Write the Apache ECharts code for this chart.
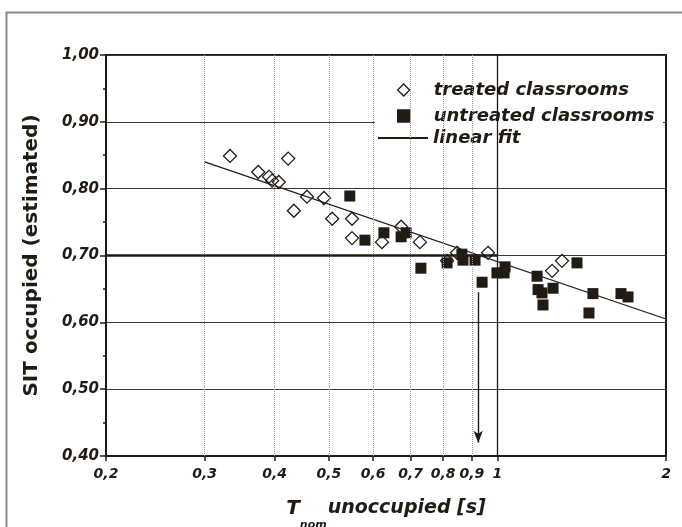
<!DOCTYPE html>
<html>
<head>
<meta charset="utf-8">
<script src="https://cdn.jsdelivr.net/npm/echarts@6/dist/echarts.min.js"></script>
<style>
  html, body { margin: 0; padding: 0; background: #fff; }
  #chart { width: 682px; height: 527px; }
</style>
</head>
<body>
<div id="chart"></div>
<script>
// T_nom unoccupied [s] vs SIT occupied (estimated)
var treatedX = [0.333, 0.374, 0.391, 0.396, 0.407, 0.423, 0.433, 0.457, 0.490, 0.507, 0.550, 0.550, 0.622, 0.673, 0.727, 0.813, 0.847, 0.962, 1.252, 1.304];
var treatedY = [0.849, 0.825, 0.818, 0.812, 0.810, 0.845, 0.767, 0.788, 0.786, 0.755, 0.755, 0.726, 0.720, 0.743, 0.720, 0.692, 0.704, 0.704, 0.677, 0.692];

var untreatedX = [0.545, 0.580, 0.627, 0.673, 0.687, 0.730, 0.813, 0.864, 0.868, 0.912, 0.939, 0.998, 1.032, 1.028, 1.177, 1.182, 1.201, 1.257, 1.206, 1.387, 1.481, 1.457, 1.662, 1.711];
var untreatedY = [0.789, 0.723, 0.734, 0.728, 0.734, 0.681, 0.689, 0.702, 0.693, 0.693, 0.660, 0.674, 0.683, 0.674, 0.669, 0.649, 0.644, 0.651, 0.626, 0.689, 0.643, 0.614, 0.643, 0.638];

var fitX = [0.3, 2];
var fitY = [0.840, 0.605];

var xTicks = [0.2, 0.3, 0.4, 0.5, 0.6, 0.7, 0.8, 0.9, 1, 2];
var dottedX = [0.3, 0.4, 0.5, 0.6, 0.7, 0.8, 0.9];
var arrowX = 0.924, arrowFrom = 0.645, arrowTo = 0.42;

var ink = '#221b14';
var font = 'DejaVu Sans';

function pairs(xs, ys) {
  return xs.map(function (x, i) { return [x, ys[i]]; });
}

var markData = dottedX.map(function (v) {
  return { xAxis: v, lineStyle: { type: 'dotted', color: '#9a9a9a', width: 1 } };
});
markData.push({ xAxis: 1, lineStyle: { type: 'solid', color: ink, width: 1.3 } });
markData.push([
  { coord: [0.2, 0.7], lineStyle: { type: 'solid', color: ink, width: 2.5 } },
  { coord: [1, 0.7] }
]);
markData.push([
  { coord: [arrowX, arrowFrom], symbol: 'none', lineStyle: { type: 'solid', color: ink, width: 1.4 } },
  { coord: [arrowX, arrowTo], symbol: 'arrow', symbolSize: [7, 12] }
]);

var legendText = { fontFamily: font, fontSize: 18, fontWeight: 'bold', fontStyle: 'italic', color: ink, lineHeight: 20 };

var chart = echarts.init(document.getElementById('chart'));
var option = {
  backgroundColor: '#fff',
  animation: false,
  textStyle: { fontFamily: font, color: ink },
  graphic: [{
    type: 'rect',
    shape: { x: 6.5, y: 12.5, width: 800, height: 600 },
    style: { fill: 'none', stroke: '#8c8c8c', lineWidth: 2 },
    silent: true
  }, {
    // white box behind the legend
    type: 'rect', z: 3,
    shape: { x: 375, y: 68, width: 288, height: 87 },
    style: { fill: '#fff' },
    silent: true
  }],
  grid: {
    left: 106, right: 16, top: 55, bottom: 71,
    show: true, borderColor: ink, borderWidth: 2,
    outerBoundsMode: 'none'
  },
  legend: [{
    orient: 'vertical',
    left: 397, top: 80, padding: 0,
    itemWidth: 12, itemHeight: 12, itemGap: 6,
    textStyle: Object.assign({ padding: [0, 0, 0, 19] }, legendText),
    itemStyle: { borderWidth: 1.3 },
    data: ['treated classrooms', 'untreated classrooms']
  }, {
    orient: 'vertical',
    left: 377, top: 128, padding: 0,
    itemWidth: 50, itemHeight: 12,
    textStyle: legendText,
    data: [{ name: 'linear fit', itemStyle: { color: 'rgba(0,0,0,0)', borderWidth: 0, opacity: 0 } }]
  }],
  xAxis: {
    type: 'log', logBase: 10, min: 0.2, max: 2,
    name: '{t|T}{sub|nom}{u|unoccupied [s]}',
    nameLocation: 'middle', nameGap: 43,
    nameTextStyle: {
      rich: {
        t: { fontFamily: font, fontSize: 20, fontWeight: 'bold', fontStyle: 'italic', color: ink, lineHeight: 22, verticalAlign: 'top' },
        sub: { fontFamily: font, fontSize: 11, fontWeight: 'bold', fontStyle: 'italic', color: ink, padding: [21, 1, 0, 0], verticalAlign: 'top' },
        u: { fontFamily: font, fontSize: 19, fontWeight: 'bold', fontStyle: 'italic', color: ink, lineHeight: 22, verticalAlign: 'top' }
      }
    },
    axisLine: { show: true, lineStyle: { color: ink, width: 2 } },
    axisTick: { show: true, customValues: xTicks, length: 5, lineStyle: { color: ink, width: 1.5 } },
    axisLabel: {
      customValues: xTicks, margin: 11,
      fontFamily: font, fontSize: 14, fontWeight: 'bold', fontStyle: 'italic', color: ink,
      formatter: function (v) { return (Math.round(v * 10) / 10).toString().replace('.', ','); }
    },
    splitLine: { show: false },
    minorTick: { show: false },
    minorSplitLine: { show: false }
  },
  yAxis: {
    type: 'value', min: 0.4, max: 1.0, interval: 0.1,
    name: 'SIT occupied (estimated)',
    nameLocation: 'middle', nameGap: 64,
    nameTextStyle: { fontFamily: font, fontSize: 20, fontWeight: 'bold', color: ink },
    axisLine: { show: true, lineStyle: { color: ink, width: 2 } },
    axisTick: { show: true, length: 6, lineStyle: { color: ink, width: 1.5 } },
    minorTick: { show: true, splitNumber: 2, length: 3, lineStyle: { color: ink, width: 1.5 } },
    axisLabel: {
      margin: 7,
      fontFamily: font, fontSize: 15, fontWeight: 'bold', fontStyle: 'italic', color: ink,
      formatter: function (v) { return v.toFixed(2).replace('.', ','); }
    },
    splitLine: { show: true, lineStyle: { color: '#3d3630', width: 1 } }
  },
  series: [
    {
      name: 'linear fit',
      type: 'line',
      data: pairs(fitX, fitY),
      symbol: 'none',
      lineStyle: { color: ink, width: 1.3 },
      itemStyle: { color: ink },
      markLine: {
        silent: true,
        symbol: ['none', 'none'],
        label: { show: false },
        data: markData
      },
      z: 2
    },
    {
      name: 'treated classrooms',
      type: 'scatter',
      data: pairs(treatedX, treatedY),
      symbol: 'diamond',
      symbolSize: 13,
      itemStyle: { color: 'rgba(255,255,255,0)', borderColor: ink, borderWidth: 1.3, opacity: 1 },
      z: 3
    },
    {
      name: 'untreated classrooms',
      type: 'scatter',
      data: pairs(untreatedX, untreatedY),
      symbol: 'rect',
      symbolSize: 11,
      itemStyle: { color: ink, borderColor: ink, borderWidth: 0, opacity: 1 },
      z: 4
    }
  ]
};
chart.setOption(option);
</script>
</body>
</html>
